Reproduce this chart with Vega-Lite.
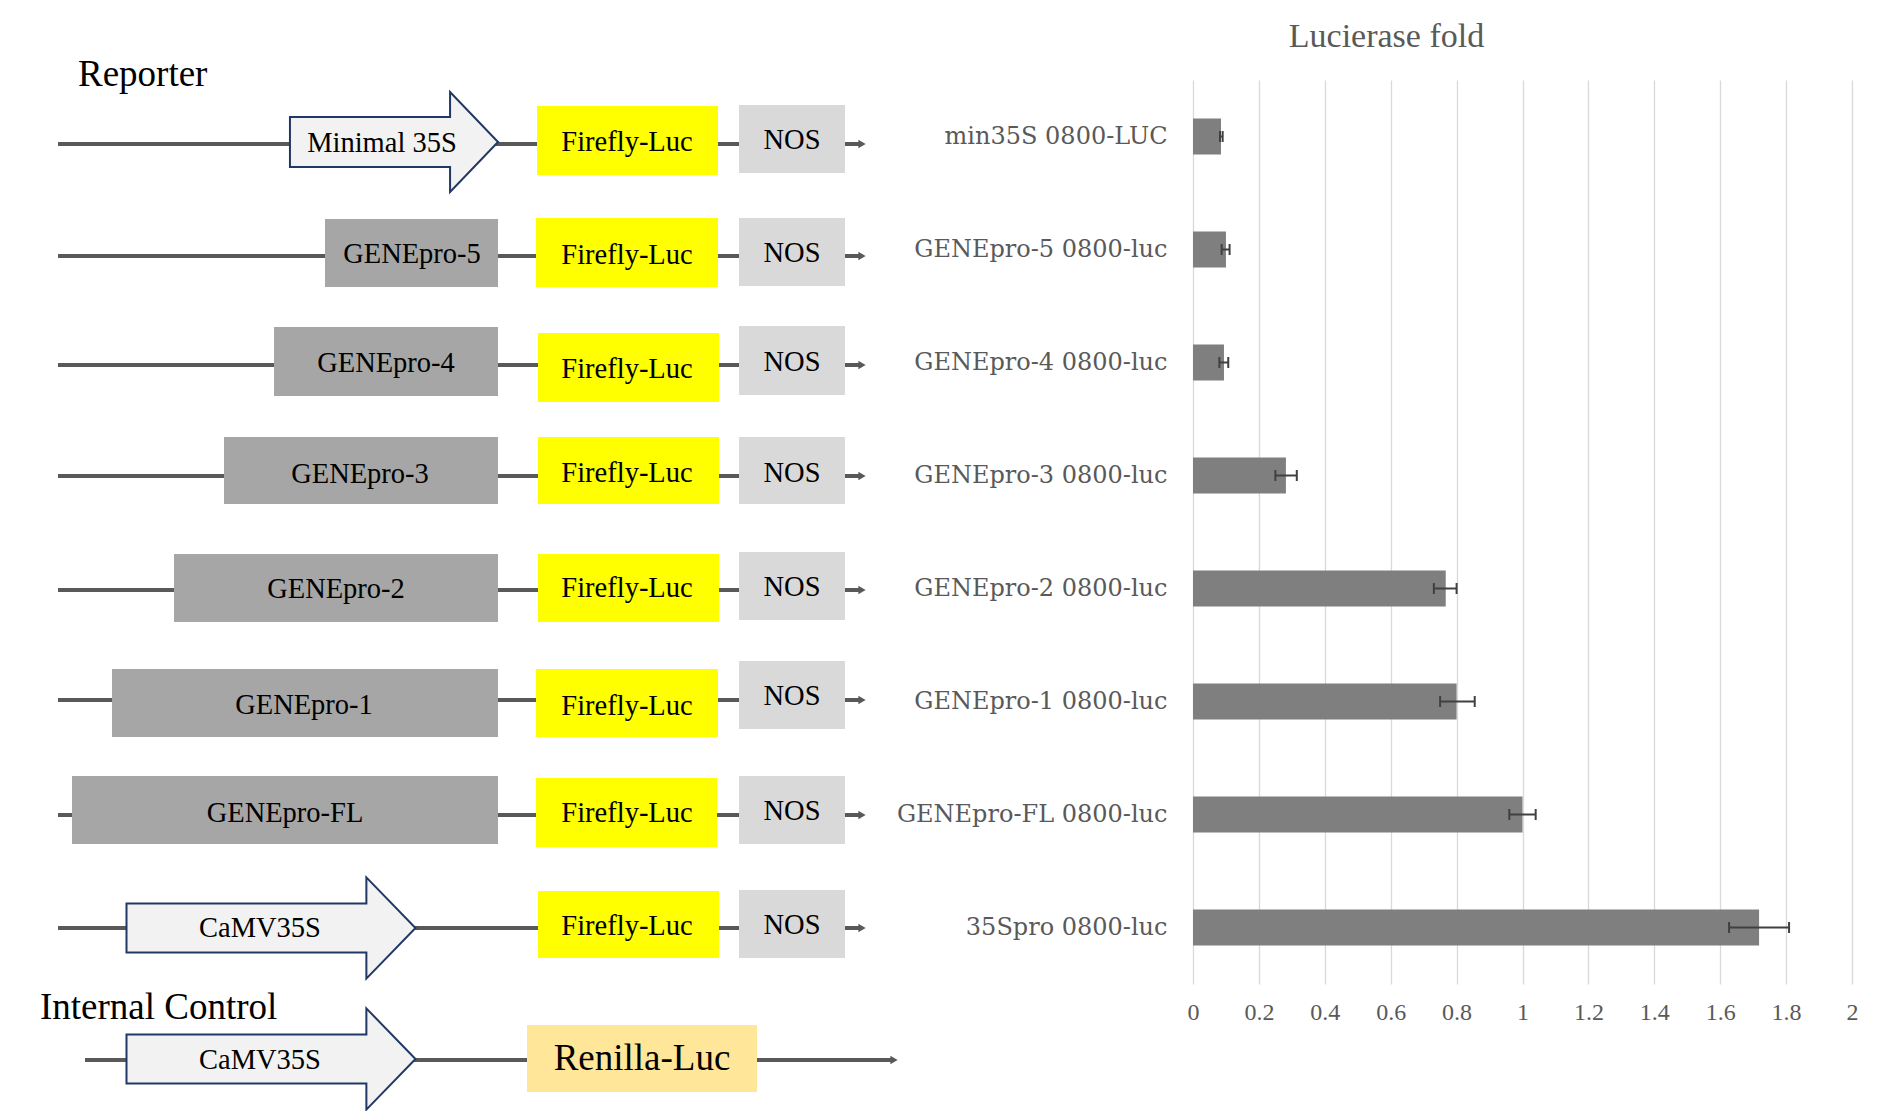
{
  "$schema": "https://vega.github.io/schema/vega-lite/v6.json",
  "background": "white",
  "padding": {"left": 0, "top": 20, "right": 0, "bottom": 0},
  "bounds": "flush",
  "spacing": 293,
  "config": {"view": {"stroke": null}, "font": "Liberation Serif"},
  "hconcat": [
    {
      "width": 900,
      "height": 1031,
      "layer": [
        {
          "data": {"values": [
            {"row": "min35S", "x1": 58, "x2": 862, "y": 144},
            {"row": "GENEpro-5", "x1": 58, "x2": 862, "y": 256},
            {"row": "GENEpro-4", "x1": 58, "x2": 862, "y": 365},
            {"row": "GENEpro-3", "x1": 58, "x2": 862, "y": 476},
            {"row": "GENEpro-2", "x1": 58, "x2": 862, "y": 590},
            {"row": "GENEpro-1", "x1": 58, "x2": 862, "y": 700},
            {"row": "GENEpro-FL", "x1": 58, "x2": 862, "y": 815},
            {"row": "35Spro", "x1": 58, "x2": 862, "y": 928},
            {"row": "Renilla", "x1": 85, "x2": 894, "y": 1060}
          ]},
          "layer": [
            {
              "mark": {"type": "rule", "color": "#595959", "strokeWidth": 4},
              "encoding": {
                "x": {"field": "x1", "type": "quantitative", "scale": {"domain": [0, 900], "nice": false, "zero": false}, "axis": null},
                "x2": {"field": "x2"},
                "y": {"field": "y", "type": "quantitative", "scale": {"domain": [80, 1111], "nice": false, "zero": false, "reverse": true}, "axis": null}
              }
            },
            {
              "mark": {"type": "point", "shape": "triangle-right", "filled": true, "color": "#595959", "opacity": 1, "size": 70},
              "encoding": {
                "x": {"field": "x2", "type": "quantitative", "scale": {"domain": [0, 900], "nice": false, "zero": false}, "axis": null},
                "y": {"field": "y", "type": "quantitative", "scale": {"domain": [80, 1111], "nice": false, "zero": false, "reverse": true}, "axis": null}
              }
            }
          ]
        },
        {
          "data": {"values": [
            {"part": "Firefly-Luc", "label": "Firefly-Luc", "x1": 537, "x2": 718, "y1": 106, "y2": 175, "tx": 627, "ty": 142},
            {"part": "NOS", "label": "NOS", "x1": 739, "x2": 845, "y1": 105, "y2": 173, "tx": 792, "ty": 140},
            {"part": "promoter", "label": "GENEpro-5", "x1": 325, "x2": 498, "y1": 219, "y2": 287, "tx": 412, "ty": 254},
            {"part": "Firefly-Luc", "label": "Firefly-Luc", "x1": 536, "x2": 718, "y1": 218, "y2": 287, "tx": 627, "ty": 255},
            {"part": "NOS", "label": "NOS", "x1": 739, "x2": 845, "y1": 218, "y2": 286, "tx": 792, "ty": 253},
            {"part": "promoter", "label": "GENEpro-4", "x1": 274, "x2": 498, "y1": 327, "y2": 396, "tx": 386, "ty": 363},
            {"part": "Firefly-Luc", "label": "Firefly-Luc", "x1": 538, "x2": 719, "y1": 333, "y2": 402, "tx": 627, "ty": 369},
            {"part": "NOS", "label": "NOS", "x1": 739, "x2": 845, "y1": 326, "y2": 395, "tx": 792, "ty": 362},
            {"part": "promoter", "label": "GENEpro-3", "x1": 224, "x2": 498, "y1": 437, "y2": 504, "tx": 360, "ty": 474},
            {"part": "Firefly-Luc", "label": "Firefly-Luc", "x1": 538, "x2": 719, "y1": 437, "y2": 504, "tx": 627, "ty": 473},
            {"part": "NOS", "label": "NOS", "x1": 739, "x2": 845, "y1": 437, "y2": 504, "tx": 792, "ty": 473},
            {"part": "promoter", "label": "GENEpro-2", "x1": 174, "x2": 498, "y1": 554, "y2": 622, "tx": 336, "ty": 589},
            {"part": "Firefly-Luc", "label": "Firefly-Luc", "x1": 538, "x2": 719, "y1": 554, "y2": 622, "tx": 627, "ty": 588},
            {"part": "NOS", "label": "NOS", "x1": 739, "x2": 845, "y1": 552, "y2": 620, "tx": 792, "ty": 587},
            {"part": "promoter", "label": "GENEpro-1", "x1": 112, "x2": 498, "y1": 669, "y2": 737, "tx": 304, "ty": 705},
            {"part": "Firefly-Luc", "label": "Firefly-Luc", "x1": 536, "x2": 718, "y1": 669, "y2": 737, "tx": 627, "ty": 706},
            {"part": "NOS", "label": "NOS", "x1": 739, "x2": 845, "y1": 661, "y2": 729, "tx": 792, "ty": 696},
            {"part": "promoter", "label": "GENEpro-FL", "x1": 72, "x2": 498, "y1": 776, "y2": 844, "tx": 285, "ty": 813},
            {"part": "Firefly-Luc", "label": "Firefly-Luc", "x1": 536, "x2": 717, "y1": 778, "y2": 847, "tx": 627, "ty": 813},
            {"part": "NOS", "label": "NOS", "x1": 739, "x2": 845, "y1": 776, "y2": 844, "tx": 792, "ty": 811},
            {"part": "Firefly-Luc", "label": "Firefly-Luc", "x1": 538, "x2": 719, "y1": 891, "y2": 958, "tx": 627, "ty": 926},
            {"part": "NOS", "label": "NOS", "x1": 739, "x2": 845, "y1": 890, "y2": 958, "tx": 792, "ty": 925},
            {"part": "Renilla-Luc", "label": "Renilla-Luc", "x1": 527, "x2": 757, "y1": 1025, "y2": 1092, "tx": 642, "ty": 1059}
          ]},
          "layer": [
            {
              "mark": {"type": "rect"},
              "encoding": {
                "x": {"field": "x1", "type": "quantitative", "scale": {"domain": [0, 900], "nice": false, "zero": false}, "axis": null},
                "x2": {"field": "x2"},
                "y": {"field": "y1", "type": "quantitative", "scale": {"domain": [80, 1111], "nice": false, "zero": false, "reverse": true}, "axis": null},
                "y2": {"field": "y2"},
                "color": {"field": "part", "type": "nominal", "scale": {"domain": ["promoter", "Firefly-Luc", "NOS", "Renilla-Luc"], "range": ["#A6A6A6", "#FFFF00", "#D9D9D9", "#FFE699"]}, "legend": null}
              }
            },
            {
              "transform": [{"filter": "datum.part !== 'Renilla-Luc'"}],
              "mark": {"type": "text", "font": "Liberation Serif", "fontSize": 28.5, "color": "#000000", "align": "center", "baseline": "middle"},
              "encoding": {
                "x": {"field": "tx", "type": "quantitative", "scale": {"domain": [0, 900], "nice": false, "zero": false}, "axis": null},
                "y": {"field": "ty", "type": "quantitative", "scale": {"domain": [80, 1111], "nice": false, "zero": false, "reverse": true}, "axis": null},
                "text": {"field": "label"}
              }
            },
            {
              "transform": [{"filter": "datum.part === 'Renilla-Luc'"}],
              "mark": {"type": "text", "font": "Liberation Serif", "fontSize": 37, "color": "#000000", "align": "center", "baseline": "middle"},
              "encoding": {
                "x": {"field": "tx", "type": "quantitative", "scale": {"domain": [0, 900], "nice": false, "zero": false}, "axis": null},
                "y": {"field": "ty", "type": "quantitative", "scale": {"domain": [80, 1111], "nice": false, "zero": false, "reverse": true}, "axis": null},
                "text": {"field": "label"}
              }
            }
          ]
        },
        {
          "data": {"values": [
            {"label": "Minimal 35S", "x": 394, "y": 142, "tx": 382, "ty": 143},
            {"label": "CaMV35S", "x": 271, "y": 928, "tx": 260, "ty": 928},
            {"label": "CaMV35S", "x": 271, "y": 1059, "tx": 260, "ty": 1060}
          ]},
          "layer": [
            {
              "mark": {"type": "point", "filled": true, "fill": "#F2F2F2", "stroke": "#203864", "strokeWidth": 2, "opacity": 1, "size": 83521},
              "encoding": {
                "x": {"field": "x", "type": "quantitative", "scale": {"domain": [0, 900], "nice": false, "zero": false}, "axis": null},
                "y": {"field": "y", "type": "quantitative", "scale": {"domain": [80, 1111], "nice": false, "zero": false, "reverse": true}, "axis": null},
                "shape": {"field": "label", "type": "nominal", "scale": {"domain": ["Minimal 35S", "CaMV35S"], "range": ["M-0.72,-0.173L0.388,-0.173L0.388,-0.346L0.72,0L0.388,0.346L0.388,0.173L-0.72,0.173Z", "M-1,-0.17L0.66,-0.17L0.66,-0.35L1,0L0.66,0.35L0.66,0.17L-1,0.17Z"]}, "legend": null}
              }
            },
            {
              "mark": {"type": "text", "font": "Liberation Serif", "fontSize": 28.5, "color": "#000000", "align": "center", "baseline": "middle"},
              "encoding": {
                "x": {"field": "tx", "type": "quantitative", "scale": {"domain": [0, 900], "nice": false, "zero": false}, "axis": null},
                "y": {"field": "ty", "type": "quantitative", "scale": {"domain": [80, 1111], "nice": false, "zero": false, "reverse": true}, "axis": null},
                "text": {"field": "label"}
              }
            }
          ]
        },
        {
          "data": {"values": [
            {"text": "Reporter", "x": 78, "y": 75},
            {"text": "Internal Control", "x": 40, "y": 1008}
          ]},
          "mark": {"type": "text", "font": "Liberation Serif", "fontSize": 37, "color": "#000000", "align": "left", "baseline": "middle"},
          "encoding": {
            "x": {"field": "x", "type": "quantitative", "scale": {"domain": [0, 900], "nice": false, "zero": false}, "axis": null},
            "y": {"field": "y", "type": "quantitative", "scale": {"domain": [80, 1111], "nice": false, "zero": false, "reverse": true}, "axis": null},
            "text": {"field": "text"}
          }
        }
      ]
    },
    {
      "width": 659,
      "height": 904,
      "title": {"text": "Lucierase fold", "font": "Liberation Serif", "fontSize": 34, "fontWeight": "normal", "color": "#595959", "anchor": "middle", "frame": "group", "dx": -136, "baseline": "alphabetic", "offset": -1},
      "data": {"values": [
        {"construct": "min35S 0800-LUC", "fold": 0.085, "lo": 0.082, "hi": 0.09},
        {"construct": "GENEpro-5 0800-luc", "fold": 0.1, "lo": 0.087, "hi": 0.111},
        {"construct": "GENEpro-4 0800-luc", "fold": 0.094, "lo": 0.08, "hi": 0.107},
        {"construct": "GENEpro-3 0800-luc", "fold": 0.282, "lo": 0.25, "hi": 0.315},
        {"construct": "GENEpro-2 0800-luc", "fold": 0.767, "lo": 0.731, "hi": 0.8},
        {"construct": "GENEpro-1 0800-luc", "fold": 0.8, "lo": 0.75, "hi": 0.855},
        {"construct": "GENEpro-FL 0800-luc", "fold": 1.0, "lo": 0.96, "hi": 1.04},
        {"construct": "35Spro 0800-luc", "fold": 1.718, "lo": 1.627, "hi": 1.809}
      ]},
      "encoding": {
        "y": {"field": "construct", "type": "nominal", "sort": null, "scale": {"paddingInner": 0.68, "paddingOuter": 0.34},
          "axis": {"title": null, "ticks": false, "domain": false, "grid": false, "labelFont": "DejaVu Serif", "labelFontSize": 24, "labelColor": "#595959", "labelPadding": 26, "labelLimit": 500}}
      },
      "layer": [
        {
          "mark": {"type": "bar", "color": "#7F7F7F"},
          "encoding": {
            "x": {"field": "fold", "type": "quantitative", "title": null, "scale": {"domain": [0, 2], "nice": false},
              "axis": {"title": null, "values": [0, 0.2, 0.4, 0.6, 0.8, 1, 1.2, 1.4, 1.6, 1.8, 2], "format": "~g", "grid": true, "gridColor": "#D9D9D9", "gridWidth": 1.3, "ticks": false, "domain": false, "labelFlush": false, "labelFont": "Liberation Serif", "labelFontSize": 24, "labelColor": "#595959", "labelPadding": 16}}
          }
        },
        {
          "mark": {"type": "rule", "color": "#404040", "strokeWidth": 2},
          "encoding": {"x": {"field": "lo", "type": "quantitative", "title": null}, "x2": {"field": "hi"}}
        },
        {
          "mark": {"type": "tick", "color": "#404040", "thickness": 2, "size": 11, "opacity": 1},
          "encoding": {"x": {"field": "lo", "type": "quantitative", "title": null}}
        },
        {
          "mark": {"type": "tick", "color": "#404040", "thickness": 2, "size": 11, "opacity": 1},
          "encoding": {"x": {"field": "hi", "type": "quantitative", "title": null}}
        }
      ]
    }
  ]
}
